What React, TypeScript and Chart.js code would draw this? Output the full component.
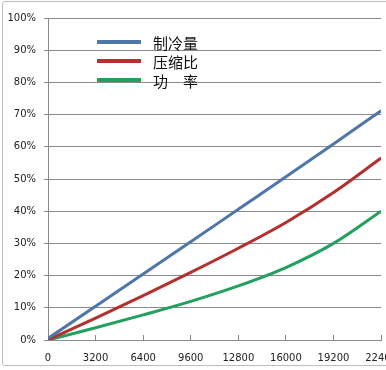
import React, { useEffect, useRef } from "react";
import { Chart, registerables } from "chart.js";

Chart.register(...registerables);

const xValues = [0, 3200, 6400, 9600, 12800, 16000, 19200, 22400];
const seriesNames = ["制冷量", "压缩比", "功　率"];
const coolingCapacity = [0.5, 10.5, 20.5, 30.5, 40.6, 50.7, 60.9, 71.2];
const compressionRatio = [0, 6.8, 13.8, 21, 28.5, 36.5, 45.8, 56.5];
const powerValues = [0, 3.8, 7.8, 12, 16.8, 22.5, 30, 40];
const seriesColors = ["#4E76A8", "#B3302D", "#23A05C"];
const yTickValues = [0, 10, 20, 30, 40, 50, 60, 70, 80, 90, 100];

const GRID = "#8a8a8a";
const FONT = { family: "'DejaVu Sans', sans-serif", size: 10 };

const legendPlugin = {
  id: "innerLegend",
  afterDatasetsDraw(chart: any) {
    const { ctx, chartArea } = chart;
    const x0 = chartArea.left + 49;
    const y0 = chartArea.top + 24;
    const step = 19;
    ctx.save();
    chart.data.datasets.forEach((ds: any, i: number) => {
      const y = y0 + i * step;
      ctx.strokeStyle = ds.borderColor;
      ctx.lineWidth = 4;
      ctx.beginPath();
      ctx.moveTo(x0, y);
      ctx.lineTo(x0 + 44, y);
      ctx.stroke();
      ctx.fillStyle = "#111";
      ctx.font = "15px 'Noto Sans CJK SC', sans-serif";
      ctx.textBaseline = "middle";
      ctx.textAlign = "left";
      ctx.fillText(ds.label, x0 + 56, y + 1);
    });
    ctx.restore();
  },
};

export default function App() {
  const canvasRef = useRef<HTMLCanvasElement | null>(null);

  useEffect(() => {
    if (!canvasRef.current) return;
    const allSeries = [coolingCapacity, compressionRatio, powerValues];
    const chart = new Chart(canvasRef.current, {
      type: "line",
      data: {
        datasets: allSeries.map((vals, i) => ({
          label: seriesNames[i],
          data: xValues.map((x, j) => ({ x, y: vals[j] })),
          borderColor: seriesColors[i],
          backgroundColor: seriesColors[i],
          borderWidth: 3,
          pointRadius: 0,
          fill: false,
          cubicInterpolationMode: "monotone" as const,
        })),
      },
      options: {
        animation: false,
        responsive: false,
        devicePixelRatio: 1,
        layout: { padding: { top: 16, right: 20, left: 0, bottom: 0 } },
        plugins: { legend: { display: false }, tooltip: { enabled: false } },
        scales: {
          x: {
            type: "linear",
            min: 0,
            max: 22400,
            afterFit: (s: any) => {
              s.height = 25;
            },
            afterBuildTicks: (s: any) => {
              s.ticks = xValues.map((v) => ({ value: v }));
            },
            ticks: {
              callback: (v: any) => String(v),
              font: FONT,
              color: "#222",
              padding: 17,
              maxRotation: 0,
              autoSkip: false,
            },
            grid: {
              display: true,
              drawOnChartArea: false,
              tickLength: -5,
              color: GRID,
              lineWidth: 1,
            },
            border: { display: true, color: GRID, width: 1 },
          },
          y: {
            type: "linear",
            min: 0,
            max: 100,
            afterFit: (s: any) => {
              s.width = 45;
            },
            afterBuildTicks: (s: any) => {
              s.ticks = yTickValues.map((v) => ({ value: v }));
            },
            ticks: {
              callback: (v: any) => v + "%",
              font: FONT,
              color: "#222",
              padding: 8,
            },
            grid: { color: GRID, lineWidth: 1, tickLength: 4 },
            border: { display: true, color: GRID, width: 1 },
          },
        },
      },
      plugins: [legendPlugin],
    });
    return () => chart.destroy();
  }, []);

  return (
    <div
      style={{
        position: "fixed",
        left: 0,
        top: 0,
        width: 386,
        height: 370,
        overflow: "hidden",
        background: "#fff",
      }}
    >
      <div
        style={{
          position: "absolute",
          left: 2,
          top: 1,
          width: 440,
          height: 363,
          border: "1px solid #bdbdbd",
          borderRadius: 3,
          background: "#fff",
        }}
      >
        <canvas
          ref={canvasRef}
          width={411}
          height={363}
          style={{ display: "block", width: 411, height: 363 }}
        />
      </div>
    </div>
  );
}
